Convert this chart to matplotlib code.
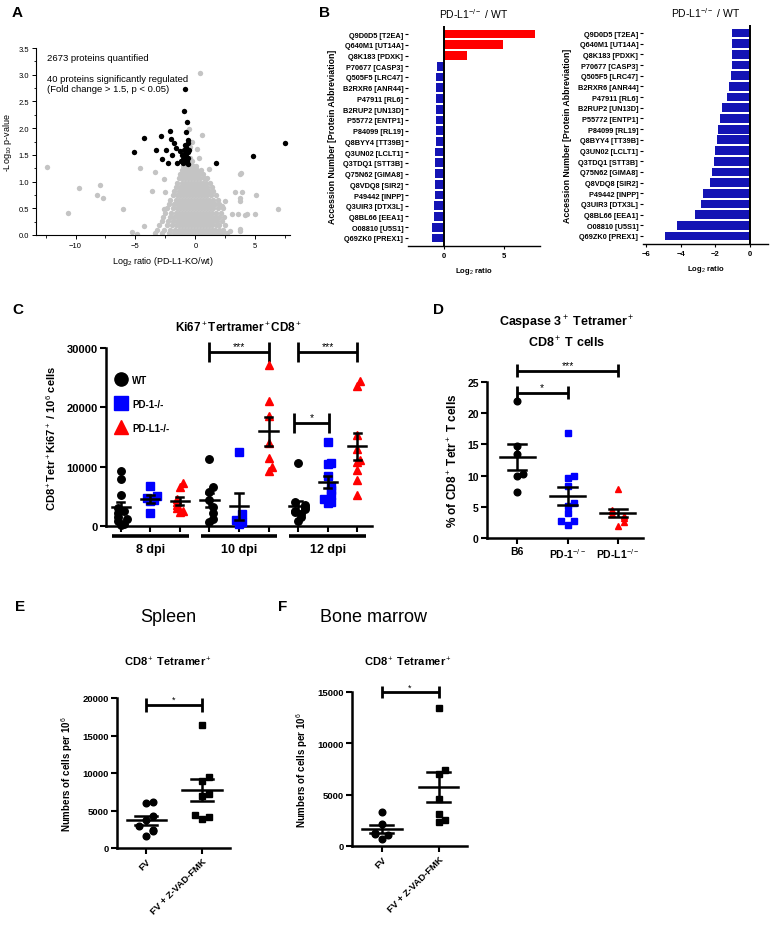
import numpy as np
import matplotlib.pyplot as plt
import matplotlib.transforms as mtransforms
from matplotlib.lines import Line2D

plt.rcParams['font.family'] = ['Liberation Sans', 'DejaVu Sans']
plt.rcParams['mathtext.fontset'] = 'custom'
plt.rcParams['mathtext.rm'] = 'Liberation Sans'
plt.rcParams['mathtext.it'] = 'Liberation Sans:italic'
plt.rcParams['mathtext.bf'] = 'Liberation Sans:bold'

# ---------------- data ----------------
# A: volcano plot
sig_x = [-5.1, -4.3, -3.3, -2.9, -2.8, -2.45, -2.3, -2.15, -2.05, -1.95,
         -1.8, -1.65, -1.5, -1.3, -1.2, -1.1, -1.05, -1.0, -0.95, -0.9,
         -0.85, -0.85, -0.8, -0.75, -0.75, -0.7, -0.65, -0.65, -0.6, -0.6,
         -0.55, -0.83, -0.97, -0.69, -0.75, -0.64, -0.83, 1.75, 4.8, 7.5]
sig_y = [1.56, 1.81, 1.6, 1.85, 1.42, 1.6, 1.34, 1.95, 1.8, 1.5,
         1.72, 1.62, 1.35, 1.58, 1.38, 1.5, 1.42, 1.34, 1.6, 1.46,
         1.52, 1.36, 1.42, 1.64, 1.48, 1.38, 1.55, 1.33, 1.45, 1.72,
         1.6, 2.73, 2.33, 2.11, 1.92, 1.77, 1.69, 1.35, 1.47, 1.72]
out_x = [-12.36, -10.6, -9.67, -8.19, -7.97, -7.69, -6.06, -5.28, -4.9, -4.58,
         -4.3, -3.61, -3.33, -2.64, -2.5, -2.64, 0.42, 0.56, -0.5, 0.14,
         0.28, 1.11, 3.75, 5.06, 6.94, 5.0, 3.33, 3.69, 3.69, 3.06,
         3.6, 4.17, 2.92, 3.75, 2.22, 2.5, 3.8, 3.9, 4.3, 3.7, -0.3, -0.45]
out_y = [1.27, 0.42, 0.88, 0.74, 0.94, 0.69, 0.49, 0.05, 0.02, 1.25,
         0.17, 0.83, 1.17, 1.05, 0.8, 0.49, 3.03, 1.87, 1.98, 1.61,
         1.45, 1.24, 1.14, 0.74, 0.49, 0.39, 0.8, 0.69, 0.64, 0.39,
         0.39, 0.38, 0.08, 0.08, 0.55, 0.64, 1.16, 0.81, 0.39, 0.11, 1.75, 1.65]
core_row_y = [1.45, 1.38, 1.30, 1.22, 1.14, 1.06, 0.98, 0.90, 0.82, 0.74,
              0.66, 0.58, 0.50, 0.42, 0.34, 0.26, 0.18, 0.10, 0.03]
core_row_x = [
    [-0.7, -0.45],
    [-0.85, -0.55, -0.3],
    [-1.0, -0.7, -0.45, -0.2, 0.05],
    [-1.1, -0.85, -0.6, -0.35, -0.1, 0.15, 0.45],
    [-1.25, -0.95, -0.7, -0.45, -0.2, 0.05, 0.3, 0.6],
    [-1.35, -1.1, -0.85, -0.6, -0.35, -0.1, 0.15, 0.4, 0.7, 1.0],
    [-1.5, -1.15, -0.9, -0.65, -0.4, -0.15, 0.1, 0.35, 0.6, 0.85, 1.2],
    [-1.6, -1.3, -1.05, -0.8, -0.55, -0.3, -0.05, 0.2, 0.45, 0.7, 0.95, 1.35],
    [-1.8, -1.4, -1.15, -0.9, -0.65, -0.4, -0.15, 0.1, 0.35, 0.6, 0.85, 1.1, 1.5],
    [-1.9, -1.55, -1.25, -1.0, -0.75, -0.5, -0.25, 0.0, 0.25, 0.5, 0.75, 1.0, 1.3, 1.7],
    [-2.1, -1.65, -1.35, -1.1, -0.85, -0.6, -0.35, -0.1, 0.15, 0.4, 0.65, 0.9, 1.15, 1.45, 1.85],
    [-2.2, -1.8, -1.45, -1.2, -0.95, -0.7, -0.45, -0.2, 0.05, 0.3, 0.55, 0.8, 1.05, 1.3, 1.6, 2.0],
    [-2.4, -1.9, -1.55, -1.3, -1.05, -0.8, -0.55, -0.3, -0.05, 0.2, 0.45, 0.7, 0.95, 1.2, 1.5, 1.85, 2.3],
    [-2.5, -2.0, -1.65, -1.4, -1.15, -0.9, -0.65, -0.4, -0.15, 0.1, 0.35, 0.6, 0.85, 1.1, 1.4, 1.7, 2.1],
    [-2.7, -2.1, -1.75, -1.45, -1.2, -0.95, -0.7, -0.45, -0.2, 0.05, 0.3, 0.55, 0.8, 1.05, 1.3, 1.6, 1.95, 2.4],
    [-2.8, -2.3, -1.85, -1.55, -1.3, -1.05, -0.8, -0.55, -0.3, -0.05, 0.2, 0.45, 0.7, 0.95, 1.2, 1.5, 1.8, 2.2],
    [-3.0, -2.4, -1.95, -1.6, -1.35, -1.1, -0.85, -0.6, -0.35, -0.1, 0.15, 0.4, 0.65, 0.9, 1.15, 1.4, 1.7, 2.0, 2.5],
    [-3.2, -2.6, -2.1, -1.7, -1.4, -1.15, -0.9, -0.65, -0.4, -0.15, 0.1, 0.35, 0.6, 0.85, 1.1, 1.35, 1.65, 1.95, 2.3],
    [-3.4, -2.8, -2.2, -1.8, -1.5, -1.2, -0.95, -0.7, -0.45, -0.2, 0.05, 0.3, 0.55, 0.8, 1.05, 1.3, 1.6, 1.9, 2.2, 2.6],
]

# B: protein log2 ratios
proteins = ["Q9D0D5 [T2EA]", "Q640M1 [UT14A]", "Q8K183 [PDXK]", "P70677 [CASP3]",
            "Q505F5 [LRC47]", "B2RXR6 [ANR44]", "P47911 [RL6]", "B2RUP2 [UN13D]",
            "P55772 [ENTP1]", "P84099 [RL19]", "Q8BYY4 [TT39B]", "Q3UN02 [LCLT1]",
            "Q3TDQ1 [STT3B]", "Q75N62 [GIMA8]", "Q8VDQ8 [SIR2]", "P49442 [INPP]",
            "Q3UIR3 [DTX3L]", "Q8BL66 [EEA1]", "O08810 [U5S1]", "Q69ZK0 [PREX1]"]
ratio_left = [7.6, 4.9, 1.9, -0.58, -0.65, -0.65, -0.67, -0.69, -0.69, -0.7,
              -0.7, -0.72, -0.72, -0.74, -0.75, -0.78, -0.8, -0.86, -0.97, -0.97]
ratio_right = [-1.03, -1.03, -1.06, -1.06, -1.1, -1.2, -1.35, -1.6, -1.74, -1.84,
               -1.93, -2.03, -2.09, -2.17, -2.32, -2.7, -2.84, -3.19, -4.22, -4.93]

# C: Ki67+ tetramer+ CD8+
c_groups = ["8 dpi", "10 dpi", "12 dpi"]
c_series = ["WT", "PD-1-/-", "PD-L1-/-"]
c_wt_8 = [9300, 8000, 5300, 3000, 2600, 2200, 1500, 1200, 800, 400, 200]
c_pd1_8 = [6800, 5000, 4700, 4400, 4200, 2200]
c_pdl1_8 = [7300, 6500, 4500, 4000, 3500, 3000, 2600, 2300]
c_wt_10 = [11300, 6500, 5800, 4300, 3200, 2200, 1200, 600]
c_pd1_10 = [12500, 2000, 700, 300, 1000]
c_pdl1_10 = [27200, 21100, 18500, 14000, 11500, 9900, 9300]
c_wt_12 = [10600, 4000, 3600, 3200, 2900, 2600, 2300, 2000, 1500, 900]
c_pd1_12 = [14200, 10600, 10400, 8500, 6800, 6000, 5200, 4600, 4000, 3800]
c_pdl1_12 = [24400, 23600, 15300, 13000, 11200, 10800, 9400, 7700, 5300]

# D: caspase 3+
d_labels = ["B6", "PD-1$^{-/-}$", "PD-L1$^{-/-}$"]
d_b6 = [22.0, 14.7, 13.4, 10.3, 9.9, 7.4]
d_pd1 = [16.8, 10.0, 9.6, 8.4, 5.6, 5.2, 4.0, 2.8, 2.8, 2.1]
d_pdl1 = [7.8, 4.5, 4.3, 3.9, 3.6, 3.2, 2.6, 2.0]

# E / F: Z-VAD-FMK
ef_labels = ["FV", "FV + Z-VAD-FMK"]
e_fv = [6200, 6000, 4300, 3800, 3000, 2400, 2300, 1600]
e_zvad = [16400, 9500, 8900, 7200, 7000, 4400, 4200, 3900]
f_fv = [3300, 2100, 1300, 1200, 1100, 700]
f_zvad = [13400, 7400, 7000, 4600, 3100, 2500, 2300]

RED = '#ff0000'
BLUE = '#0000ff'

# ---------------- layout helpers ----------------
W, H = 773, 929
fig = plt.figure(figsize=(W / 100, H / 100), dpi=100)


def add_ax(l, t, r, b):
    return fig.add_axes([l / W, 1 - b / H, (r - l) / W, (b - t) / H])


def ftext(x, y, s, **kw):
    fig.text(x / W, 1 - y / H, s, **kw)


def prism_style(ax, size=7.5, lw=1.8):
    for s in ['top', 'right']:
        ax.spines[s].set_visible(False)
    for s in ['left', 'bottom']:
        ax.spines[s].set_linewidth(lw)
    ax.tick_params(direction='out', width=1.5, length=4, labelsize=size, pad=2)
    for lab in ax.get_yticklabels() + ax.get_xticklabels():
        lab.set_fontweight('bold')


def spread(vals, thr, dx):
    vals = np.asarray(vals, dtype=float)
    offs = np.zeros(len(vals))
    placed = []
    for i in np.argsort(vals):
        k = sum(1 for j in placed if abs(vals[j] - vals[i]) < thr)
        offs[i] = ((k + 1) // 2) * dx * (1 if k % 2 else -1)
        placed.append(i)
    return offs


def dotplot(ax, x, vals, marker, color, ms, thr, dx, mw, cw):
    vals = np.asarray(vals, dtype=float)
    ax.plot(x + spread(vals, thr, dx), vals, ls='none', marker=marker,
            color=color, ms=ms, clip_on=False, zorder=3)
    m = vals.mean()
    sem = vals.std(ddof=1) / np.sqrt(len(vals))
    ax.plot([x - mw, x + mw], [m, m], color='k', lw=1.8, zorder=4)
    ax.errorbar(x, m, yerr=sem, color='k', capsize=0, elinewidth=1.8, zorder=4)
    ax.plot([x - cw, x + cw], [m + sem, m + sem], color='k', lw=1.8, zorder=4)
    ax.plot([x - cw, x + cw], [m - sem, m - sem], color='k', lw=1.8, zorder=4)


def sigbar(ax, x1, x2, y, h, text, fs=7.5):
    kw = dict(color='k', lw=2.0, clip_on=False, solid_capstyle='butt')
    ax.plot([x1, x2], [y, y], **kw)
    ax.plot([x1, x1], [y - h, y + h], **kw)
    ax.plot([x2, x2], [y - h, y + h], **kw)
    ax.text((x1 + x2) / 2, y + h * 0.1, text, ha='center', va='bottom', fontsize=fs)


# ---------------- A ----------------
axA = add_ax(36, 49, 290, 236)
cx = [x for row in core_row_x for x in row]
cy = [y for y, row in zip(core_row_y, core_row_x) for _ in row]
axA.scatter(cx, cy, s=15, color='#c4c4c4', lw=0, zorder=2)
axA.scatter(out_x, out_y, s=15, color='#c4c4c4', lw=0, zorder=2)
axA.scatter(sig_x, sig_y, s=15, color='k', lw=0, zorder=3, clip_on=False)
axA.set_xlim(-13.3, 7.9)
axA.set_ylim(0, 3.5)
axA.set_xticks([-10, -5, 0, 5])
axA.set_xticks(np.arange(-12.5, 7.6, 2.5), minor=True)
axA.set_yticks(np.arange(0, 3.51, 0.5))
axA.set_yticks(np.arange(0, 3.51, 0.25), minor=True)
axA.set_yticklabels([f'{v:.1f}' for v in np.arange(0, 3.51, 0.5)])
for s in ['top', 'right']:
    axA.spines[s].set_visible(False)
axA.tick_params(labelsize=5.5, width=0.7, length=3, pad=2)
axA.tick_params(which='minor', width=0.6, length=1.8)
axA.set_xlabel('Log$_2$ ratio (PD-L1-KO/wt)', fontsize=6.5, labelpad=4)
axA.set_ylabel('-Log$_{10}$ p-value', fontsize=6.5, labelpad=3)
axA.text(0.045, 0.975, '2673 proteins quantified', transform=axA.transAxes,
         fontsize=6.8, va='top')
axA.text(0.045, 0.86, '40 proteins significantly regulated\n(Fold change > 1.5, p < 0.05)',
         transform=axA.transAxes, fontsize=6.8, va='top', linespacing=1.05)

# ---------------- B ----------------
def bar_panel(ax, vals, xlim, xticks):
    y = np.arange(len(proteins))
    cols = [RED if v > 0 else '#1414b4' for v in vals]
    ax.barh(y, vals, height=0.82, color=cols, zorder=2)
    ax.axvline(0, color='k', lw=1.4, zorder=3)
    ax.set_ylim(len(proteins) - 0.25, -0.75)
    ax.set_xlim(*xlim)
    ax.set_yticks(y)
    ax.set_yticklabels(proteins, fontsize=5.3, fontweight='bold')
    ax.set_xticks(xticks)
    ax.set_xticklabels([str(t).replace('-', '\u2212') for t in xticks],
                       fontsize=5.5, fontweight='bold')
    for s in ['top', 'right', 'left']:
        ax.spines[s].set_visible(False)
    ax.spines['bottom'].set_linewidth(1.0)
    ax.tick_params(axis='y', length=2, width=0.8, pad=1.5)
    ax.tick_params(axis='x', length=2.5, width=0.8, pad=2)
    ax.set_xlabel('Log$_2$ ratio', fontsize=5.5, fontweight='bold', labelpad=4)
    ax.set_ylabel('Accession Number [Protein Abbreviation]', fontsize=6.3,
                  fontweight='bold', labelpad=4)
    ax.set_title('PD-L1$^{-/-}$ / WT', fontsize=7.5, pad=6)


axB1 = add_ax(408, 27, 540, 247)
bar_panel(axB1, ratio_left, (-3.0, 8.0), [0, 5])
axB2 = add_ax(643, 26, 768, 245)
bar_panel(axB2, ratio_right, (-6.2, 1.05), [-6, -4, -2, 0])

# ---------------- C ----------------
axC = add_ax(106, 349, 372, 527)
c_data = [c_wt_8, c_pd1_8, c_pdl1_8, c_wt_10, c_pd1_10, c_pdl1_10,
          c_wt_12, c_pd1_12, c_pdl1_12]
c_marker = ['o', 's', '^']
c_color = ['k', BLUE, RED]
for i, vals in enumerate(c_data):
    dotplot(axC, i, vals, c_marker[i % 3], c_color[i % 3], 5.4,
            thr=1100, dx=0.11, mw=0.31, cw=0.12)
axC.set_xlim(-0.5, 8.5)
axC.set_ylim(0, 30000)
axC.set_yticks([0, 10000, 20000, 30000])
axC.set_xticks(range(9))
axC.set_xticklabels([])
prism_style(axC, size=8)
axC.set_ylabel('CD8$^+$Tetr$^+$Ki67$^+$ / 10$^6$ cells', fontsize=8,
               fontweight='bold', labelpad=6)
trC = mtransforms.blended_transform_factory(axC.transData, axC.transAxes)
for gi, g in enumerate(c_groups):
    c = 3 * gi + 1
    axC.plot([c - 1.3, c + 1.3], [-0.056, -0.056], color='k', lw=2.6,
             transform=trC, clip_on=False, solid_capstyle='butt')
    axC.text(c, -0.095, g, transform=trC, ha='center', va='top', fontsize=9,
             fontweight='bold')
sigbar(axC, 3, 5, 29300, 1700, '***')
sigbar(axC, 6, 8, 29300, 1700, '***')
sigbar(axC, 5.85, 7.05, 17300, 1700, '*')
handles = [Line2D([], [], ls='none', marker=m, color=c, ms=9.5)
           for m, c in zip(c_marker, c_color)]
axC.legend(handles, c_series, loc='upper left', bbox_to_anchor=(0.0, 0.9),
           frameon=False, handletextpad=0.5, labelspacing=1.45, handlelength=1.3,
           prop={'size': 7, 'weight': 'bold'})
axC.set_title('Ki67$^+$Tertramer$^+$CD8$^+$', fontsize=8.5, fontweight='bold', pad=12)

# ---------------- D ----------------
axD = add_ax(487, 383, 643, 539)
for i, (vals, m, c) in enumerate(zip([d_b6, d_pd1, d_pdl1], c_marker, c_color)):
    dotplot(axD, i, vals, m, c, 4.8, thr=0.8, dx=0.12, mw=0.35, cw=0.18)
axD.set_xlim(-0.6, 2.5)
axD.set_ylim(0, 25)
axD.set_yticks(range(0, 26, 5))
axD.set_xticks(range(3))
axD.set_xticklabels(d_labels)
prism_style(axD, size=7.5)
axD.set_ylabel('% of CD8$^+$ Tetr$^+$ T cells', fontsize=8.5, fontweight='bold', labelpad=5)
sigbar(axD, 0, 2, 26.8, 1.05, '***')
sigbar(axD, 0, 1, 23.3, 1.05, '*')
ftext(567, 323, 'Caspase 3$^+$ Tetramer$^+$', ha='center', va='center',
      fontsize=9, fontweight='bold')
ftext(567, 343, 'CD8$^+$ T cells', ha='center', va='center', fontsize=9,
      fontweight='bold')

# ---------------- E / F ----------------
def ef_panel(ax, fv, zvad, ymax, step, sig_y, cap):
    for i, (vals, m) in enumerate(zip([fv, zvad], ['o', 's'])):
        dotplot(ax, i, vals, m, 'k', 4.8, thr=ymax * 0.035, dx=0.12, mw=0.35, cw=0.2)
    ax.set_xlim(-0.52, 1.5)
    ax.set_ylim(0, ymax)
    ax.set_yticks(np.arange(0, ymax + 1, step))
    ax.set_xticks([0, 1])
    ax.set_xticklabels(ef_labels, rotation=45, ha='right', rotation_mode='anchor')
    prism_style(ax, size=6.8)
    ax.set_ylabel('Numbers of cells per 10$^6$', fontsize=7, fontweight='bold',
                  labelpad=5)
    sigbar(ax, 0, 1, sig_y, cap, '*', fs=6.5)


axE = add_ax(117, 699, 230, 849)
ef_panel(axE, e_fv, e_zvad, 20000, 5000, 19100, 930)
axF = add_ax(352, 693, 467, 847)
ef_panel(axF, f_fv, f_zvad, 15000, 5000, 15000, 630)

ftext(168, 618, 'Spleen', ha='center', va='center', fontsize=13)
ftext(168, 662, 'CD8$^+$ Tetramer$^+$', ha='center', va='center', fontsize=8,
      fontweight='bold')
ftext(373, 618, 'Bone marrow', ha='center', va='center', fontsize=13)
ftext(408, 662, 'CD8$^+$ Tetramer$^+$', ha='center', va='center', fontsize=8,
      fontweight='bold')

# panel letters
for lab, x, y in [('A', 17, 13), ('B', 325, 13), ('C', 18, 310), ('D', 438, 310),
                  ('E', 20, 607), ('F', 283, 607)]:
    ftext(x, y, lab, ha='center', va='center', fontsize=11, fontweight='bold')

fig.savefig('out.png', dpi=100)
